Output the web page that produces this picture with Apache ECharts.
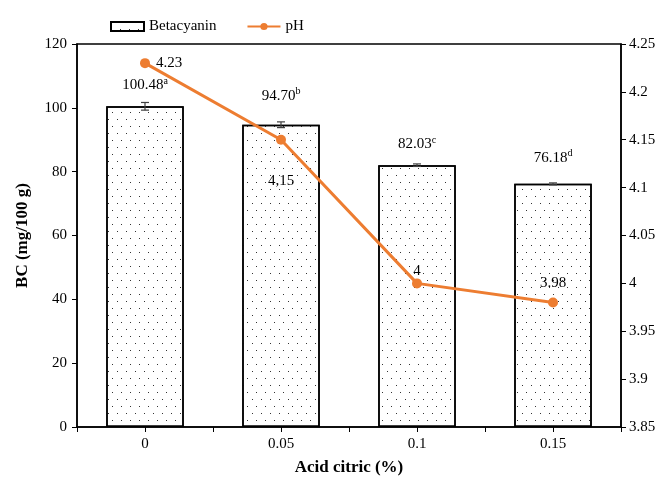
<!DOCTYPE html>
<html>
<head>
<meta charset="UTF-8">
<title></title>
<style type="text/css">
	* { margin: 0; padding: 0; }
	#main { width: 668px; height: 481px; background: #fff; }
</style>
</head>
<body>
<div id="main"></div>
<script src="https://cdn.jsdelivr.net/npm/echarts@6/dist/echarts.min.js"></script>
<script type="text/javascript">
	var categories = ['0', '0.05', '0.1', '0.15'];
	var betacyanin = [100.48, 94.70, 82.03, 76.18];
	var betaErr = [1.2, 0.9, 0.4, 0.3];
	var betaLetters = ['a', 'b', 'c', 'd'];
	var phValues = [4.23, 4.15, 4, 3.98];
	var phLabels = ['4.23', '4,15', '4', '3.98'];

	var serif = '"Liberation Serif", "Times New Roman", serif';
	var chart = echarts.init(document.getElementById('main'));

	// 误差线
	function renderErr(params, api) {
		var i = api.value(0);
		var top = api.coord([i, api.value(1) + api.value(2)]);
		var bot = api.coord([i, api.value(1) - api.value(2)]);
		var w = 4;
		var st = { stroke: '#404040', lineWidth: 1.2 };
		return {
			type: 'group',
			children: [
				{ type: 'line', shape: { x1: top[0], y1: top[1], x2: bot[0], y2: bot[1] }, style: st },
				{ type: 'line', shape: { x1: top[0] - w, y1: top[1], x2: top[0] + w, y2: top[1] }, style: st },
				{ type: 'line', shape: { x1: bot[0] - w, y1: bot[1], x2: bot[0] + w, y2: bot[1] }, style: st }
			]
		};
	}

	var errData = [];
	for (var i = 0; i < betacyanin.length; i++) {
		errData.push([i, betacyanin[i], betaErr[i]]);
	}

	// 柱子标签的距离不一样
	var barLabelGap = [12, 20, 12, 17];
	var barData = [];
	for (var k = 0; k < betacyanin.length; k++) {
		barData.push({ value: betacyanin[k], label: { distance: barLabelGap[k] } });
	}

	var phPos = [
		{ position: 'right', distance: 6 },
		{ position: 'bottom', distance: 29 },
		{ position: 'top', distance: 0 },
		{ position: 'top', distance: 7 }
	];
	var phData = [];
	for (var j = 0; j < phValues.length; j++) {
		phData.push({
			value: phValues[j],
			label: {
				show: true,
				position: phPos[j].position,
				distance: phPos[j].distance,
				formatter: phLabels[j]
			}
		});
	}

	var dots = {
		symbol: 'rect',
		symbolSize: 1,
		color: '#333',
		dashArrayX: [[1, 8], [0, 4, 1, 4]],
		dashArrayY: [1, 6]
	};

	chart.setOption({
		animation: false,
		textStyle: { fontFamily: serif },
		legend: {
			left: 105,
			top: 14,
			itemGap: 30,
			itemWidth: 33,
			itemHeight: 9,
			textStyle: { fontFamily: serif, fontSize: 15, color: '#000' },
			data: [
				{ name: 'Betacyanin', icon: 'rect', itemStyle: { borderWidth: 2, borderColor: '#000' } },
				{ name: 'pH' }
			]
		},
		grid: {
			left: 77,
			right: 47,
			top: 44,
			bottom: 50,
			show: true,
			borderColor: '#000',
			borderWidth: 1.5
		},
		xAxis: [{
			type: 'category',
			data: categories,
			position: 'bottom',
			name: 'Acid citric (%)',
			nameLocation: 'middle',
			nameGap: 32,
			nameTextStyle: { fontFamily: serif, fontSize: 17, fontWeight: 'bold', color: '#000' },
			axisLine: { lineStyle: { color: '#000', width: 1.5 } },
			axisTick: { show: true, length: 5, lineStyle: { color: '#000' } },
			axisLabel: { fontFamily: serif, fontSize: 15, color: '#000', margin: 10 }
		}, {
			type: 'category',
			data: categories,
			position: 'bottom',
			axisLine: { show: false },
			axisTick: { show: true, alignWithLabel: true, length: 5, lineStyle: { color: '#000' } },
			axisLabel: { show: false }
		}],
		yAxis: [{
			type: 'value',
			min: 0,
			max: 120,
			interval: 20,
			name: 'BC (mg/100 g)',
			nameLocation: 'middle',
			nameGap: 46,
			nameTextStyle: { fontFamily: serif, fontSize: 17, fontWeight: 'bold', color: '#000' },
			axisLine: { show: true, lineStyle: { color: '#000', width: 1.5 } },
			axisTick: { show: true, length: 5, lineStyle: { color: '#000' } },
			axisLabel: { fontFamily: serif, fontSize: 15, color: '#000', margin: 10 },
			splitLine: { show: false }
		}, {
			type: 'value',
			min: 3.85,
			max: 4.25,
			interval: 0.05,
			position: 'right',
			axisLine: { show: true, lineStyle: { color: '#000', width: 1.5 } },
			axisTick: { show: true, length: 5, lineStyle: { color: '#000' } },
			axisLabel: {
				fontFamily: serif, fontSize: 15, color: '#000', margin: 8,
				formatter: function (v) { return String(Math.round(v * 100) / 100); }
			},
			splitLine: { show: false }
		}],
		series: [{
			name: 'Betacyanin',
			type: 'bar',
			data: barData,
			barWidth: '57%',
			itemStyle: {
				color: '#fff',
				borderColor: '#000',
				borderWidth: 1.5,
				decal: dots
			},
			label: {
				show: true,
				position: 'top',
				color: '#000',
				fontFamily: serif,
				formatter: function (p) {
					return '{v|' + p.value.toFixed(2) + '}{s|' + betaLetters[p.dataIndex] + '}';
				},
				rich: {
					v: { fontFamily: serif, fontSize: 15, color: '#000' },
					s: { fontFamily: serif, fontSize: 10, color: '#000', padding: [0, 0, 8, 0] }
				}
			},
			z: 2
		}, {
			name: 'err',
			type: 'custom',
			renderItem: renderErr,
			data: errData,
			encode: { x: 0, y: 1 },
			z: 3
		}, {
			name: 'pH',
			type: 'line',
			yAxisIndex: 1,
			data: phData,
			symbol: 'circle',
			symbolSize: 10,
			color: '#ED7D31',
			lineStyle: { color: '#ED7D31', width: 3 },
			label: { color: '#000', fontFamily: serif, fontSize: 15 },
			z: 5
		}]
	});
</script>
</body>
</html>
